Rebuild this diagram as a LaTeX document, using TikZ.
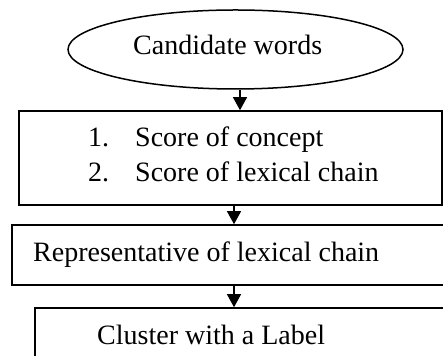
\documentclass[tikz,border=0pt]{standalone}
\usepackage{fontspec}
\setmainfont{Liberation Serif}
\usetikzlibrary{shapes.geometric,arrows.meta}

\tikzset{
  stage/.style={draw,line width=1.6pt,rectangle,inner sep=0pt},
  words/.style={anchor=base west,inner sep=0pt,font=\fontsize{28}{33}\selectfont},
  flow/.style={line width=1.2pt,-{Triangle[width=14pt,length=13pt]}}
}

\begin{document}
\begin{tikzpicture}[x=1pt,y=1pt]
  \useasboundingbox (0,0) rectangle (443,355);
  \clip (0,0) rectangle (443,355);
  \node [draw,ellipse,line width=1.5pt,minimum width=335pt,minimum height=79pt,inner sep=0pt] (cand) at (235.5,305.5) {};
  \node [words] (candtxt) at (133,300) {Candidate words};
  \node [stage,minimum width=423pt,minimum height=94pt] (score) at (230.5,197) {};
  \node [words] (one) at (88,208) {1.};
  \node [words] (concept) at (135,208) {Score of concept};
  \node [words] (two) at (88,173) {2.};
  \node [words] (chainscore) at (135,173) {Score of lexical chain};
  \node [stage,minimum width=448pt,minimum height=60pt] (rep) at (236,100) {};
  \node [words] (reptxt) at (33,93) {Representative of lexical chain};
  \node [stage,minimum width=440pt,minimum height=67pt] (clus) at (255,13.5) {};
  \node [words] (clustxt) at (97,10) {Cluster with a Label};
  \coordinate (axisa) at (240,0);
  \coordinate (axisb) at (234,0);
  \draw [flow] (cand.south -| axisa) -- (score.north -| axisa);
  \draw [flow] (score.south -| axisb) -- (rep.north -| axisb);
  \draw [flow] (rep.south -| axisb) -- (clus.north -| axisb);
\end{tikzpicture}
\end{document}
